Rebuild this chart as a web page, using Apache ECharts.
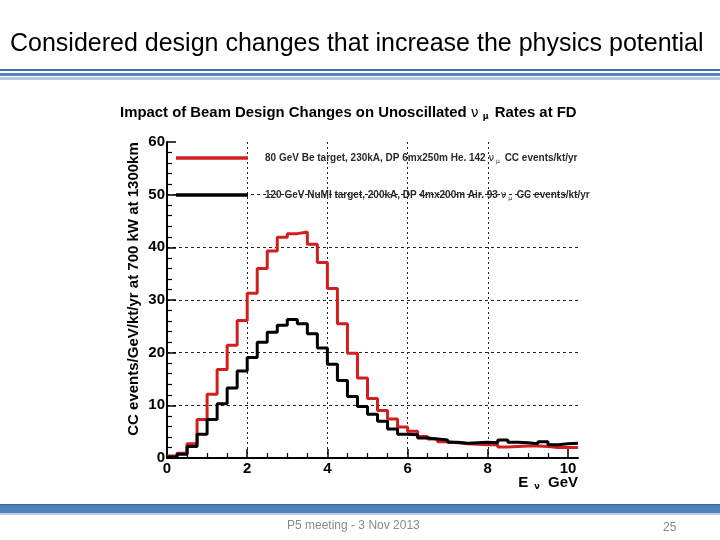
<!DOCTYPE html>
<html>
<head>
<meta charset="utf-8">
<script src="https://cdn.jsdelivr.net/npm/echarts@6/dist/echarts.min.js"></script>
<style>
html,body{margin:0;padding:0;background:#fff;}
#chart{width:720px;height:540px;}
</style>
</head>
<body>
<div id="chart"></div>
<script>
// ---- data ----
const energyLow = [0, 0.25, 0.5, 0.75, 1, 1.25, 1.5, 1.75, 2, 2.25, 2.5, 2.75, 3, 3.25, 3.5, 3.75,
  4, 4.25, 4.5, 4.75, 5, 5.25, 5.5, 5.75, 6, 6.25, 6.5, 6.75, 7, 7.25, 7.5, 7.75,
  8, 8.25, 8.5, 8.75, 9, 9.25, 9.5, 9.75, 10];
const energyMax = 10.25;
const rate80GeV = [0.4, 0.9, 2.7, 7.3, 12.1, 16.8, 21.4, 26.1, 31.3, 36.0, 39.3, 41.9, 42.6, 42.9, 40.6, 37.1,
  32.2, 25.5, 19.9, 15.2, 11.3, 9.0, 7.4, 5.9, 5.1, 4.1, 3.6, 3.1, 2.9, 2.7, 2.6, 2.5,
  2.5, 2.1, 2.2, 2.3, 2.3, 2.2, 2.0, 2.0, 2.0];
const rate120GeV = [0.2, 0.7, 2.2, 4.5, 7.3, 10.3, 13.3, 16.5, 19.1, 22.0, 23.9, 25.2, 26.3, 25.5, 23.6, 20.9,
  17.8, 14.7, 11.7, 9.8, 8.3, 7.0, 5.5, 4.5, 4.4, 3.8, 3.6, 3.4, 3.0, 2.8, 2.9, 3.0,
  2.9, 3.4, 3.0, 2.9, 2.7, 3.1, 2.5, 2.7, 2.8];
const xMajorTicks = [0, 2, 4, 6, 8, 10];
const xMinorTicks = [0.5, 1, 1.5, 2.5, 3, 3.5, 4.5, 5, 5.5, 6.5, 7, 7.5, 8.5, 9, 9.5];
const seriesNames = ['80 GeV Be target', '120 GeV NuMI target'];
const legendParts = [
  ['80 GeV Be target, 230kA, DP 6mx250m He. 142 ', ' CC events/kt/yr'],
  ['120 GeV NuMI target, 200kA, DP 4mx200m Air. 93 ', ' CC events/kt/yr']
];
const slideTitle = 'Considered design changes that increase the physics potential';
const chartTitleA = 'Impact of Beam Design Changes on Unoscillated ';
const chartTitleB = ' Rates at FD';
const yAxisName = 'CC events/GeV/kt/yr at 700 kW at 1300km';
const footerText = 'P5 meeting - 3 Nov 2013';
const pageNumber = '25';

function toSteps(vals) {
  const d = energyLow.map((e, i) => [e, vals[i]]);
  d.push([energyMax, vals[vals.length - 1]]);
  return d;
}

const FONT = '"Liberation Sans", Arial, Helvetica, sans-serif';
const chart = echarts.init(document.getElementById('chart'), null, {renderer: 'canvas'});

const option = {
  backgroundColor: '#ffffff',
  animation: false,
  title: [
    {
      text: slideTitle, left: 10, top: 32, padding: 0,
      textStyle: {fontFamily: FONT, fontSize: 25, fontWeight: 'normal', color: '#000'}
    },
    {
      text: '{b|' + chartTitleA + '}{n|ν}{s|μ}{b|' + chartTitleB + '}',
      left: 120, top: 105, padding: 0,
      textStyle: {
        rich: {
          b: {fontFamily: FONT, fontSize: 14.9, fontWeight: 'bold', color: '#000'},
          n: {fontFamily: '"DejaVu Sans", sans-serif', fontSize: 14, fontWeight: 'normal', color: '#000', padding: [0, 2, 0, 0]},
          s: {fontFamily: '"DejaVu Sans", sans-serif', fontSize: 8, color: '#000', padding: [8, 2, 0, 2]}
        }
      }
    },
    {
      text: '{b|E}{s|ν}{b| GeV}',
      right: 142, top: 475, padding: 0,
      textStyle: {
        rich: {
          b: {fontFamily: FONT, fontSize: 15, fontWeight: 'bold', color: '#000'},
          s: {fontFamily: '"DejaVu Sans", sans-serif', fontSize: 8, color: '#000', padding: [8, 4, 0, 6]}
        }
      }
    },
    {
      text: footerText, left: 287, top: 520, padding: 0,
      textStyle: {fontFamily: FONT, fontSize: 12, fontWeight: 'normal', color: '#8a8a8a'}
    },
    {
      text: pageNumber, left: 663, top: 522, padding: 0,
      textStyle: {fontFamily: FONT, fontSize: 12, fontWeight: 'normal', color: '#8a8a8a'}
    }
  ],
  graphic: [
    {type: 'rect', shape: {x: 0, y: 69, width: 720, height: 2}, style: {fill: '#3f6fa8'}, silent: true},
    {type: 'rect', shape: {x: 0, y: 73, width: 720, height: 3}, style: {fill: '#5585bf'}, silent: true},
    {type: 'rect', shape: {x: 0, y: 77, width: 720, height: 3}, style: {fill: '#b4c8e3'}, silent: true},
    {type: 'rect', shape: {x: 0, y: 504, width: 720, height: 1}, style: {fill: '#2f6a8c'}, silent: true},
    {type: 'rect', shape: {x: 0, y: 505, width: 720, height: 8}, style: {fill: '#4f81bd'}, silent: true},
    {type: 'rect', shape: {x: 0, y: 513, width: 720, height: 2}, style: {fill: '#b8cbe4'}, silent: true}
  ],
  legend: {
    orient: 'vertical',
    left: 176, top: 151, padding: 0,
    itemWidth: 72, itemHeight: 3.5, itemGap: 23,
    selectedMode: false,
    data: [
      {name: seriesNames[0], icon: 'rect'},
      {name: seriesNames[1], icon: 'rect'}
    ],
    formatter: function (name) {
      const p = legendParts[seriesNames.indexOf(name)];
      return '{t|' + p[0] + '}{n|ν}{s|μ}{t|' + p[1] + '}';
    },
    textStyle: {
      padding: [0, 0, 0, 12],
      lineHeight: 14,
      rich: {
        t: {fontFamily: FONT, fontSize: 10, fontWeight: 'bold', color: '#2a2a2a'},
        n: {fontFamily: '"DejaVu Sans", sans-serif', fontSize: 10, color: '#2a2a2a', padding: [0, 1, 0, 0]},
        s: {fontFamily: '"DejaVu Sans", sans-serif', fontSize: 6, color: '#2a2a2a', padding: [6, 2, 0, 1]}
      }
    }
  },
  grid: {left: 167, top: 142, width: 411, height: 316, containLabel: false},
  xAxis: [
    {
      type: 'value', min: 0, max: energyMax, interval: 2,
      axisLine: {show: true, onZero: false, lineStyle: {color: '#000', width: 2}},
      axisTick: {show: true, inside: true, length: 9, customValues: xMajorTicks, lineStyle: {color: '#000', width: 1.5}},
      axisLabel: {show: true, margin: 3, customValues: xMajorTicks,
        fontFamily: FONT, fontSize: 15, fontWeight: 'bold', color: '#000'},
      splitLine: {show: true, showMinLine: false, showMaxLine: false,
        lineStyle: {color: '#222', width: 1, type: [2, 3]}}
    },
    {
      type: 'value', min: 0, max: energyMax, position: 'bottom',
      axisLine: {show: false},
      axisTick: {show: true, inside: true, length: 5, customValues: xMinorTicks, lineStyle: {color: '#000', width: 1.2}},
      axisLabel: {show: false},
      splitLine: {show: false}
    }
  ],
  yAxis: {
    type: 'value', min: 0, max: 60, interval: 10,
    name: yAxisName, nameLocation: 'middle', nameGap: 26, nameRotate: 90, nameMoveOverlap: false,
    nameTextStyle: {fontFamily: FONT, fontSize: 15, fontWeight: 'bold', color: '#000', padding: [0, 0, 0, 22]},
    axisLine: {show: true, onZero: false, lineStyle: {color: '#000', width: 2}},
    axisTick: {show: true, inside: true, length: 9, lineStyle: {color: '#000', width: 1.5}},
    minorTick: {show: true, splitNumber: 5, length: 5, lineStyle: {color: '#000', width: 1.2}},
    axisLabel: {margin: 2, fontFamily: FONT, fontSize: 15, fontWeight: 'bold', color: '#000'},
    splitLine: {show: true, showMinLine: false, showMaxLine: false,
      lineStyle: {color: '#222', width: 1, type: [3, 3]}}
  },
  series: [
    {
      name: seriesNames[0], type: 'line', step: 'end', xAxisIndex: 0,
      data: toSteps(rate80GeV), symbol: 'none', z: 3,
      itemStyle: {color: '#d21e1e'},
      lineStyle: {color: '#d21e1e', width: 3}
    },
    {
      name: seriesNames[1], type: 'line', step: 'end', xAxisIndex: 0,
      data: toSteps(rate120GeV), symbol: 'none', z: 4,
      itemStyle: {color: '#000'},
      lineStyle: {color: '#000', width: 3}
    }
  ]
};
chart.setOption(option);
</script>
</body>
</html>
